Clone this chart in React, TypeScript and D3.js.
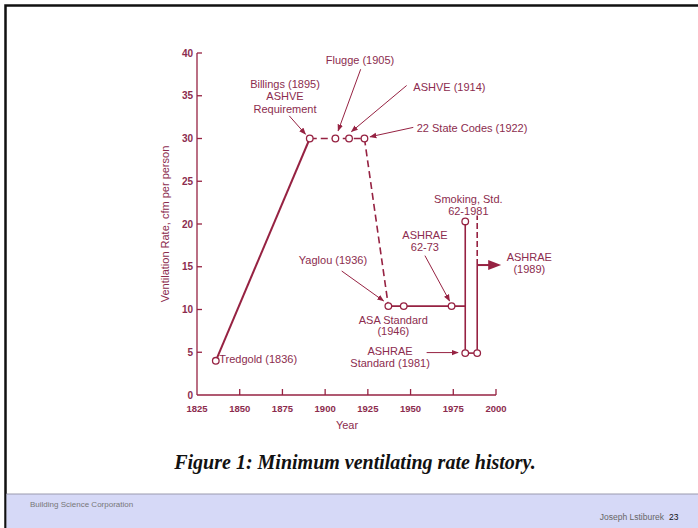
import React from 'react';
import * as d3 from 'd3';

// ventilation rate history, [year, cfm per person]
const riseLine = [[1836, 4], [1891, 30]];
const topDashed = [[1891, 30], [1906, 30], [1914, 30], [1923, 30]];
const dropDashed = [[1923, 30], [1937, 10.4]];
const plateauLine = [[1937, 10.4], [1946, 10.4], [1974, 10.4], [1982, 10.4]];
const line1981 = [[1982, 20.3], [1982, 4.9]];
const base1981 = [[1982, 4.9], [1989, 4.9]];
const line1989 = [[1989, 4.9], [1989, 15.2]];
const dashed1989 = [[1989, 15.2], [1989, 21]];
const arrow1989 = [[1989, 15.2], [1996, 15.2]];

const points = [
  [1836, 4], [1891, 30], [1906, 30], [1914, 30], [1923, 30],
  [1937, 10.4], [1946, 10.4], [1974, 10.4], [1982, 20.3], [1982, 4.9], [1989, 4.9],
];

const xTicks = [1825, 1850, 1875, 1900, 1925, 1950, 1975, 2000];
const yTicks = [0, 5, 10, 15, 20, 25, 30, 35, 40];

// labels: [text, year, value, anchor]
const labels = [
  ['Flugge (1905)', 1920.4, 38.7, 'middle'],
  ['Billings (1895)', 1876.5, 35.9, 'middle'],
  ['ASHVE', 1876.5, 34.5, 'middle'],
  ['Requirement', 1876.5, 33.0, 'middle'],
  ['ASHVE (1914)', 1951.6, 35.6, 'start'],
  ['22 State Codes (1922)', 1953.6, 30.8, 'start'],
  ['Yaglou (1936)', 1904.6, 15.3, 'middle'],
  ['ASA Standard', 1939.9, 8.3, 'middle'],
  ['(1946)', 1939.9, 7.0, 'middle'],
  ['ASHRAE', 1938, 4.66, 'middle'],
  ['Standard (1981)', 1938, 3.3, 'middle'],
  ['ASHRAE', 1958.4, 18.3, 'middle'],
  ['62-73', 1958.4, 16.9, 'middle'],
  ['Smoking, Std.', 1983.8, 22.5, 'middle'],
  ['62-1981', 1983.8, 21.1, 'middle'],
  ['ASHRAE', 2019.5, 15.7, 'middle'],
  ['(1989)', 2019.5, 14.3, 'middle'],
  ['Tredgold (1836)', 1838, 3.7, 'start'],
];

// pointer arrows: [fromYear, fromValue, toYear, toValue]
const pointers = [
  [1920.8, 38.1, 1907.6, 30.9],
  [1879.0, 32.65, 1888.5, 30.5],
  [1947.7, 36.2, 1915.4, 30.8],
  [1951.6, 31.3, 1926.3, 30.2],
  [1909.7, 14.5, 1934.2, 11.0],
  [1959.4, 4.96, 1977.8, 4.96],
  [1958.4, 16.3, 1972.8, 11.0],
];

const width = 698;
const height = 528;
const lineColor = '#962242';
const textColor = '#8c2c4e';
const sans = 'Liberation Sans, Arial, sans-serif';

export default function App() {
  const x = d3.scaleLinear().domain([1825, 2000]).range([197, 496]);
  const y = d3.scaleLinear().domain([0, 40]).range([395, 53]);
  const line = d3.line().x(d => x(d[0])).y(d => y(d[1]));

  const arrowEnd = arrow1989[1];
  const tipX = x(arrowEnd[0]) + 12;
  const ay = y(arrowEnd[1]);

  return (
    <svg width={width} height={height}
      style={{ position: 'absolute', left: 0, top: 0, display: 'block', background: '#fff' }}>
      <defs>
        <marker id="head" viewBox="0 0 10 10" refX="9" refY="5" markerWidth="7" markerHeight="7"
          markerUnits="userSpaceOnUse" orient="auto">
          <path d="M0,1 L10,5 L0,9 Z" fill={lineColor} />
        </marker>
      </defs>

      {/* slide frame */}
      <path d={`M5.5,${height} V5.5 H${width}`} fill="none" stroke="#111" strokeWidth={2.5} />

      {/* footer band */}
      <rect x={6.5} y={494} width={width - 6.5} height={height - 494} fill="#d6d9f7" />
      <line x1={6.5} x2={width} y1={494} y2={494} stroke="#9a9aae" strokeWidth={1} />
      <text x={30} y={507} fontFamily={sans} fontSize={8} fill="#777">Building Science Corporation</text>
      <text x={664} y={520} fontFamily={sans} fontSize={8.5} fill="#666" textAnchor="end">Joseph Lstiburek</text>
      <text x={669} y={520} fontFamily={sans} fontSize={8.5} fill="#111">23</text>

      {/* axes */}
      <g stroke={lineColor} strokeWidth={1.3} fill="none">
        <line x1={x(1825)} x2={x(1825)} y1={y(0)} y2={y(40)} />
        <line x1={x(1825)} x2={x(2000)} y1={y(0)} y2={y(0)} />
        {yTicks.slice(1).map(t => (
          <line key={t} x1={x(1825)} x2={x(1825) + 5} y1={y(t)} y2={y(t)} />
        ))}
        {xTicks.slice(1).map(t => (
          <line key={t} x1={x(t)} x2={x(t)} y1={y(0)} y2={y(0) - 6} />
        ))}
      </g>
      <g fontFamily={sans} fontWeight="bold" fill={textColor}>
        {yTicks.map(t => (
          <text key={t} x={x(1825) - 4} y={y(t) + 3.5} fontSize={10} textAnchor="end">{t}</text>
        ))}
        {xTicks.map(t => (
          <text key={t} x={x(t)} y={412} fontSize={9.5} textAnchor="middle">{t}</text>
        ))}
      </g>
      <text x={347} y={429} fontFamily={sans} fontSize={11} fill={textColor} textAnchor="middle">Year</text>
      <text transform="translate(169,224) rotate(-90)" fontFamily={sans} fontSize={11}
        fill={textColor} textAnchor="middle">Ventilation Rate, cfm per person</text>

      {/* history lines */}
      <g fill="none" stroke={lineColor}>
        <path d={line(riseLine)} strokeWidth={2} />
        <path d={line(topDashed)} strokeWidth={1.6} strokeDasharray="7,4" />
        <path d={line(dropDashed)} strokeWidth={1.6} strokeDasharray="7,4" />
        <path d={line(plateauLine)} strokeWidth={1.6} />
        <path d={line(line1981)} strokeWidth={1.6} />
        <path d={line(base1981)} strokeWidth={1.6} />
        <path d={line(line1989)} strokeWidth={1.6} />
        <path d={line(dashed1989)} strokeWidth={1.6} strokeDasharray="6,3" />
        <path d={line(arrow1989)} strokeWidth={2} />
      </g>
      <path d={`M${x(arrowEnd[0]) - 1},${ay - 5} L${tipX},${ay} L${x(arrowEnd[0]) - 1},${ay + 5} Z`}
        fill={lineColor} />

      {points.map((p, i) => (
        <circle key={i} cx={x(p[0])} cy={y(p[1])} r={3.3} fill="#fff" stroke={lineColor} strokeWidth={1.3} />
      ))}

      {/* pointers */}
      <g stroke={lineColor} strokeWidth={1} fill="none">
        {pointers.map((p, i) => (
          <line key={i} x1={x(p[0])} y1={y(p[1])} x2={x(p[2])} y2={y(p[3])} markerEnd="url(#head)" />
        ))}
      </g>

      <g fontFamily={sans} fontSize={11} fill={textColor}>
        {labels.map((l, i) => (
          <text key={i} x={x(l[1] as number)} y={y(l[2] as number)} textAnchor={l[3] as string}>{l[0]}</text>
        ))}
      </g>

      <text x={355} y={469} fontFamily="Liberation Serif, Times New Roman, serif" fontSize={20}
        fontWeight="bold" fontStyle="italic" fill="#111" textAnchor="middle">
        Figure 1: Minimum ventilating rate history.
      </text>
    </svg>
  );
}
